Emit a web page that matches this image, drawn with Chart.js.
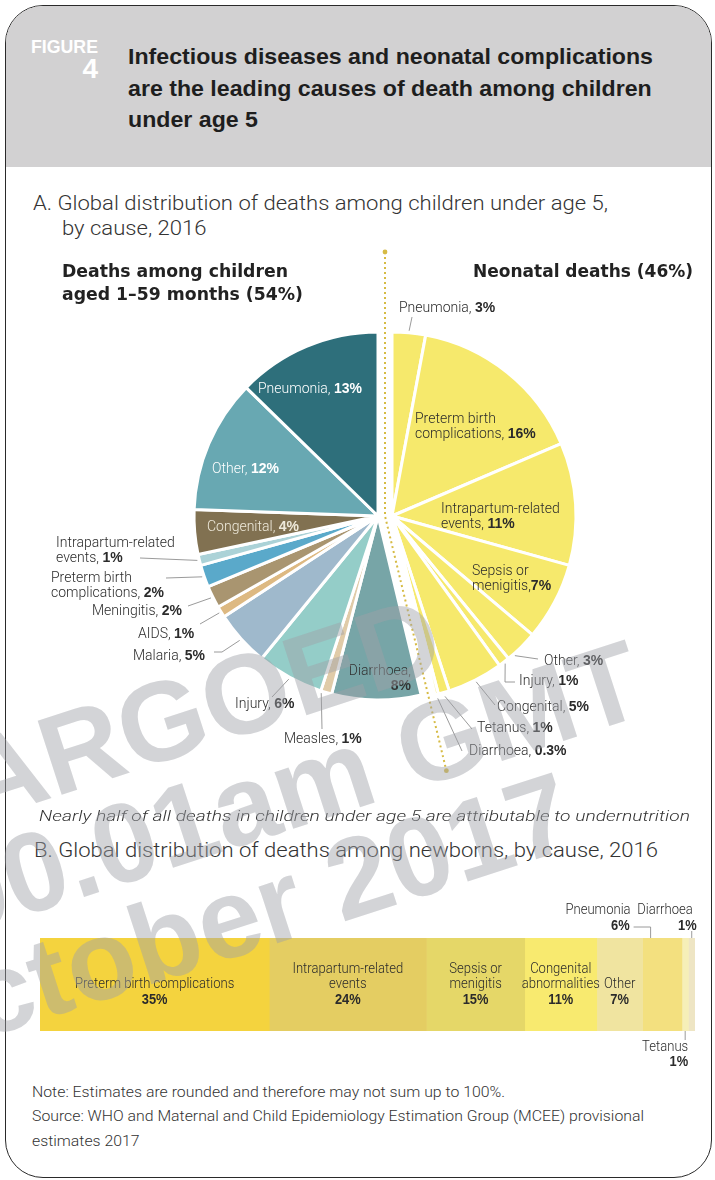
<!DOCTYPE html>
<html lang="en">
<head>
<meta charset="utf-8">
<title>Causes of death among children under age 5</title>
<script src="https://cdn.jsdelivr.net/npm/chart.js@4.4.1/dist/chart.umd.min.js"></script>
<style>
  html, body { margin: 0; padding: 0; background: #fff; }
  #page { position: relative; width: 715px; height: 1180px; overflow: hidden;
          font-family: Roboto, "Liberation Sans", sans-serif; color: #2b2b2b; }
  #frame { position: absolute; left: 5px; top: 5px; width: 707px; height: 1173px; box-sizing: border-box;
           border: 1.4px solid #2a2a2a; border-radius: 38px; overflow: hidden; }
  #band { position: absolute; left: 0; top: 0; right: 0; height: 161px; background: #d2d1d2; }
  .t { position: absolute; white-space: nowrap; transform-origin: 0 0; }
  .t b { font-family: "Liberation Sans", Arial, sans-serif; font-weight: 700; }
  canvas { position: absolute; left: 0; }
  .wm { position: absolute; white-space: nowrap; font: 700 113px "Liberation Sans", Arial, sans-serif;
        line-height: 113px; height: 113px; color: rgba(160, 162, 167, 0.46);
        transform-origin: 100% 100%; transform: rotate(-18deg); pointer-events: none; }
</style>
</head>
<body>
<div id="page">
  <div id="frame"><div id="band"></div></div>
  <canvas id="neoPie" width="715" height="560" style="top:240px"></canvas>
  <canvas id="childPie" width="715" height="560" style="top:240px"></canvas>
  <canvas id="newbornBar" width="715" height="200" style="top:880px"></canvas>
</div>
<script>
// Part A: share of all under-5 deaths, neonatal slices clockwise from 12 o'clock
const neonatalCauses = ['Pneumonia', 'Preterm birth\ncomplications', 'Intrapartum-related\nevents', 'Sepsis or\nmenigitis',
  'Other', 'Injury', 'Congenital', 'Tetanus', 'Diarrhoea'];
const neonatalShares = [3, 16, 11, 7, 3, 1, 5, 1, 0.3];

// ...then the 1-59 month slices, continuing clockwise
const childCauses = ['Diarrhoea', 'Measles', 'Injury', 'Malaria', 'AIDS', 'Meningitis', 'Preterm birth\ncomplications',
  'Intrapartum-related\nevents', 'Congenital', 'Other', 'Pneumonia'];
const childShares = [8, 1, 6, 5, 1, 2, 2, 1, 4, 12, 13];

// Part B: share of neonatal deaths
const newbornCauses = ['Preterm birth complications', 'Intrapartum-related\nevents', 'Sepsis or\nmenigitis',
  'Congenital\nabnormalities', 'Other', 'Pneumonia', 'Tetanus', 'Diarrhoea'];
const newbornShares = [35, 24, 15, 11, 7, 6, 1, 1];

const neonatalColor = '#f6e96c';
const childColors = ['#77a5a7', '#e0cba8', '#94cdc8', '#9fb9cc', '#ddb982', '#a99570', '#5aa9ca', '#abd2d7',
  '#817151', '#68a8b2', '#2e6f7b'];
const newbornColors = ['#f4d33e', '#e4cd62', '#e5d768', '#f8ea6f', '#f0e4a0', '#f3e07f', '#f6efb8', '#eee5c4'];

const PIE_R = 184;
const PIE_CY = 276;        // centre y inside the pie canvases
const NEO_CX = 392;        // the two halves are pulled apart sideways
const CHILD_CX = 378;
const PIE_TOP = 240;       // page y of the pie canvases

const page = document.getElementById('page');

// absolutely placed text, positioned by its first baseline
function put(html, x, base, o) {
  o = Object.assign({ size: 14, weight: 300, family: 'Roboto, "Liberation Sans", sans-serif', color: '#2b2b2b',
                      align: 'left', italic: false }, o);
  const lh = o.lh || o.size;
  const el = document.createElement('div');
  el.className = 't';
  el.innerHTML = html;
  Object.assign(el.style, { fontSize: o.size + 'px', fontWeight: o.weight, fontFamily: o.family, color: o.color,
    lineHeight: lh + 'px', fontStyle: o.italic ? 'italic' : 'normal' });
  el.style.top = (base - ((lh - o.size * 1.17) / 2 + 0.92 * o.size)) + 'px';
  if (o.align === 'right') {
    el.style.right = (715 - x) + 'px';
    el.style.textAlign = 'right';
    el.style.transformOrigin = '100% 0';
  } else {
    el.style.left = x + 'px';
  }
  page.appendChild(el);
  let s = o.scale;
  if (o.fit) s = o.fit / el.getBoundingClientRect().width;
  if (s) el.style.transform = `scaleX(${s})`;
  return s;
}

// header
put('FIGURE', 31, 53, { size: 19, weight: 700, family: '"Liberation Sans", Arial', color: '#fff', fit: 67 });
put('4', 98, 78, { size: 28, weight: 700, family: '"Liberation Sans", Arial', color: '#fff', align: 'right' });
const titleFont = { size: 21.5, weight: 700, family: '"Liberation Sans", Arial', color: '#1e1e1e' };
const ts = put('Infectious diseases and neonatal complications', 128, 65, Object.assign({ fit: 525 }, titleFont));
put('are the leading causes of death among children', 128, 97, Object.assign({ scale: ts }, titleFont));
put('under age 5', 128, 128, Object.assign({ scale: ts }, titleFont));

const headA = { size: 20.5, weight: 300, color: '#333' };
const sa = put('A. Global distribution of deaths among children under age 5,', 33, 210, Object.assign({ fit: 575 }, headA));
put('by cause, 2016', 62, 235, Object.assign({ scale: sa }, headA));

const groupFont = { size: 17, weight: 700, family: '"DejaVu Sans", sans-serif', color: '#222' };
const sg = put('Deaths among children', 62, 277, Object.assign({ fit: 226 }, groupFont));
put('aged 1–59 months (54%)', 62, 300, Object.assign({ scale: sg }, groupFont));
put('Neonatal deaths (46%)', 693, 277, Object.assign({ fit: 220, align: 'right' }, groupFont));

// pie label placement: x, baseline, optional leader (slice point t / dr, then page points)
const neoLabelPos = [
  { x: 399, y: 312, lead: [[412, 317]] },
  { x: 415, y: 423 },
  { x: 441, y: 513 },
  { x: 472, y: 575, sep: ',' },
  { x: 544, y: 665, t: 0.8, lead: [[538, 659]] },
  { x: 519, y: 685, lead: [[505, 682], [515, 682]] },
  { x: 497, y: 711, lead: [[495, 705]] },
  { x: 477, y: 732, dr: 4, lead: [[472, 729]] },
  { x: 469, y: 755, dr: 4, lead: [[462, 751]] }
];
const childLabelPos = [
  { x: 411, y: 675, align: 'right', sep: ',\n', color: '#333' },
  { x: 284, y: 743, t: 0.9, lead: [[322, 729]] },
  { x: 235, y: 708, lead: [[272, 697]] },
  { x: 133, y: 660, lead: [[222, 652], [214, 652]] },
  { x: 138, y: 638, lead: [[200, 624]] },
  { x: 92, y: 615, lead: [[188, 606]] },
  { x: 51, y: 582, lead: [[166, 578]] },
  { x: 56, y: 547, lead: [[140, 558]] },
  { x: 207, y: 531, color: '#efeadb' },
  { x: 212, y: 473, color: '#fff' },
  { x: 258, y: 393, color: '#fff' }
];

function labelHtml(name, value, sep) {
  return name.split('\n').join('<br>') + (sep || ', ').replace('\n', '<br>') + `<b>${value}%</b>`;
}
neoLabelPos.forEach((p, i) => put(labelHtml(neonatalCauses[i], neonatalShares[i], p.sep), p.x, p.y,
  { size: 14, lh: 14.5, color: p.color || '#2b2b2b', align: p.align }));
childLabelPos.forEach((p, i) => put(labelHtml(childCauses[i], childShares[i], p.sep), p.x, p.y,
  { size: 14, lh: 14.5, color: p.color || '#2b2b2b', align: p.align }));

const allShares = neonatalShares.concat(childShares);
const nNeo = neonatalShares.length;
const clear = 'rgba(0,0,0,0)';

// leader lines from each slice out to its label, plus the dotted divider
function pieDecor(isNeo) {
  return {
    id: 'pieDecor',
    afterDatasetsDraw(chart) {
      const ctx = chart.ctx;
      const meta = chart.getDatasetMeta(0);
      const specs = isNeo ? neoLabelPos : childLabelPos;
      ctx.save();
      ctx.strokeStyle = '#8e8e8e';
      ctx.lineWidth = 0.9;
      specs.forEach((s, k) => {
        if (!s.lead) return;
        const arc = meta.data[isNeo ? k : nNeo + k];
        const a = arc.startAngle + (arc.endAngle - arc.startAngle) * (s.t ?? 0.5);
        const r = arc.outerRadius + (s.dr ?? 2);
        ctx.beginPath();
        ctx.moveTo(arc.x + r * Math.cos(a), arc.y + r * Math.sin(a));
        s.lead.forEach(([px, py]) => ctx.lineTo(px, py - PIE_TOP));
        ctx.stroke();
      });
      if (!isNeo) {
        // divider between neonatal and 1-59 month halves
        const first = meta.data[nNeo];
        const mx = first.x + (NEO_CX - CHILD_CX) / 2, my = first.y;
        const a = first.startAngle, len = 262;
        const ends = [[mx, 12], [mx + len * Math.cos(a), my + len * Math.sin(a)]];
        ctx.strokeStyle = '#d6bb45';
        ctx.fillStyle = '#d6bb45';
        ctx.lineWidth = 2;
        ctx.setLineDash([2, 3]);
        ctx.beginPath();
        ctx.moveTo(ends[0][0], ends[0][1]);
        ctx.lineTo(mx, my);
        ctx.lineTo(ends[1][0], ends[1][1]);
        ctx.stroke();
        ctx.setLineDash([]);
        ends.forEach(([x, y]) => { ctx.beginPath(); ctx.arc(x, y, 2.4, 0, Math.PI * 2); ctx.fill(); });
      }
      ctx.restore();
    }
  };
}

function makePie(id, isNeo, cx) {
  const mine = allShares.map((v, i) => (i < nNeo) === isNeo);
  return new Chart(document.getElementById(id), {
    type: 'pie',
    data: {
      labels: neonatalCauses.concat(childCauses),
      datasets: [{
        data: allShares,
        backgroundColor: mine.map((m, i) => m ? (isNeo ? neonatalColor : childColors[i - nNeo]) : clear),
        borderColor: mine.map(m => m ? '#fff' : clear),
        borderWidth: 3
      }]
    },
    options: {
      responsive: false,
      animation: false,
      events: [],
      radius: PIE_R,
      layout: { padding: { left: cx - 200, right: 715 - cx - 200, top: PIE_CY - 200, bottom: 560 - PIE_CY - 200 } },
      plugins: { legend: { display: false }, tooltip: { enabled: false } }
    },
    plugins: [pieDecor(isNeo)]
  });
}
makePie('neoPie', true, NEO_CX);
makePie('childPie', false, CHILD_CX);

put('Nearly half of all deaths in children under age 5 are attributable to undernutrition', 39, 822,
  { size: 15.5, italic: true, color: '#333', fit: 651 });
put('B. Global distribution of deaths among newborns, by cause, 2016', 34, 858,
  { size: 21, color: '#333', fit: 624 });

// condensed text on canvas
function cText(ctx, s, x, y, font, align, sx) {
  ctx.save();
  ctx.font = font;
  ctx.textAlign = align;
  ctx.textBaseline = 'middle';
  ctx.translate(x, y);
  ctx.scale(sx, 1);
  ctx.fillText(s, 0, 0);
  ctx.restore();
}

const barLabels = {
  id: 'barLabels',
  afterDatasetsDraw(chart) {
    const ctx = chart.ctx;
    const light = '300 15px Roboto, "Liberation Sans", sans-serif';
    const bold = '700 14px "Liberation Sans", Arial, sans-serif';
    const lh = 15.5, sx = 0.87;
    ctx.save();
    ctx.fillStyle = '#2b2b2b';
    const seg = i => chart.getDatasetMeta(i).data[0];
    // labels sitting inside the wider segments
    [0, 1, 2, 3, 4].forEach(i => {
      const el = seg(i);
      const cx = (el.x + el.base) / 2;
      const vy = el.y + lh;
      const names = newbornCauses[i].split('\n');
      names.forEach((n, k) => cText(ctx, n, cx, vy - (names.length - k) * lh, light, 'center', sx));
      cText(ctx, newbornShares[i] + '%', cx, vy, bold, 'center', 0.92);
    });
    ctx.strokeStyle = '#8e8e8e';
    ctx.lineWidth = 0.9;
    // Pneumonia, above with an elbow leader
    let el = seg(5);
    const top = el.y - el.height / 2, bottom = el.y + el.height / 2;
    let lx = el.base + 8;
    ctx.beginPath(); ctx.moveTo(el.base - 9, top - 11); ctx.lineTo(lx, top - 11); ctx.lineTo(lx, top); ctx.stroke();
    cText(ctx, newbornCauses[5], el.base - 12, top - 28, light, 'right', sx);
    cText(ctx, newbornShares[5] + '%', el.base - 13, top - 12, bold, 'right', 0.92);
    // Diarrhoea, above
    el = seg(7);
    lx = (el.x + el.base) / 2;
    ctx.beginPath(); ctx.moveTo(lx, top - 7); ctx.lineTo(lx, top); ctx.stroke();
    cText(ctx, newbornCauses[7], lx + 1, top - 28, light, 'right', sx);
    cText(ctx, newbornShares[7] + '%', lx + 5, top - 12, bold, 'right', 0.92);
    // Tetanus, below
    el = seg(6);
    lx = (el.x + el.base) / 2;
    ctx.beginPath(); ctx.moveTo(lx, bottom); ctx.lineTo(lx, bottom + 9); ctx.stroke();
    cText(ctx, newbornCauses[6], lx + 3, bottom + 16, light, 'right', sx);
    cText(ctx, newbornShares[6] + '%', lx + 3, bottom + 31, bold, 'right', 0.92);
    ctx.restore();
  }
};

new Chart(document.getElementById('newbornBar'), {
  type: 'bar',
  data: {
    labels: ['Newborns'],
    datasets: newbornShares.map((v, i) => ({
      label: newbornCauses[i],
      data: [v],
      backgroundColor: newbornColors[i],
      borderWidth: 0,
      barPercentage: 1,
      categoryPercentage: 1
    }))
  },
  options: {
    indexAxis: 'y',
    responsive: false,
    animation: false,
    events: [],
    layout: { padding: { left: 40, right: 20, top: 58, bottom: 49 } },
    scales: {
      x: { stacked: true, min: 0, max: 100, display: false },
      y: { stacked: true, display: false }
    },
    plugins: { legend: { display: false }, tooltip: { enabled: false } }
  },
  plugins: [barLabels]
});

// notes
const noteFont = { size: 14.5, color: '#333' };
put('Note: Estimates are rounded and therefore may not sum up to 100%.', 32, 1098, Object.assign({ fit: 473 }, noteFont));
const sn = put('Source: WHO and Maternal and Child Epidemiology Estimation Group (MCEE) provisional', 32, 1122,
  Object.assign({ fit: 612 }, noteFont));
put('estimates 2017', 32, 1147, Object.assign({ scale: sn }, noteFont));

// embargo stamp across the page
[['EMBARGOED', 454, 686], ['00.01am GMT', 656, 730], ['October 2017', 586, 862]].forEach(([s, x, y]) => {
  const w = document.createElement('div');
  w.className = 'wm';
  w.textContent = s;
  w.style.right = (715 - x) + 'px';
  w.style.top = (y - 113) + 'px';
  page.appendChild(w);
});
</script>
</body>
</html>
